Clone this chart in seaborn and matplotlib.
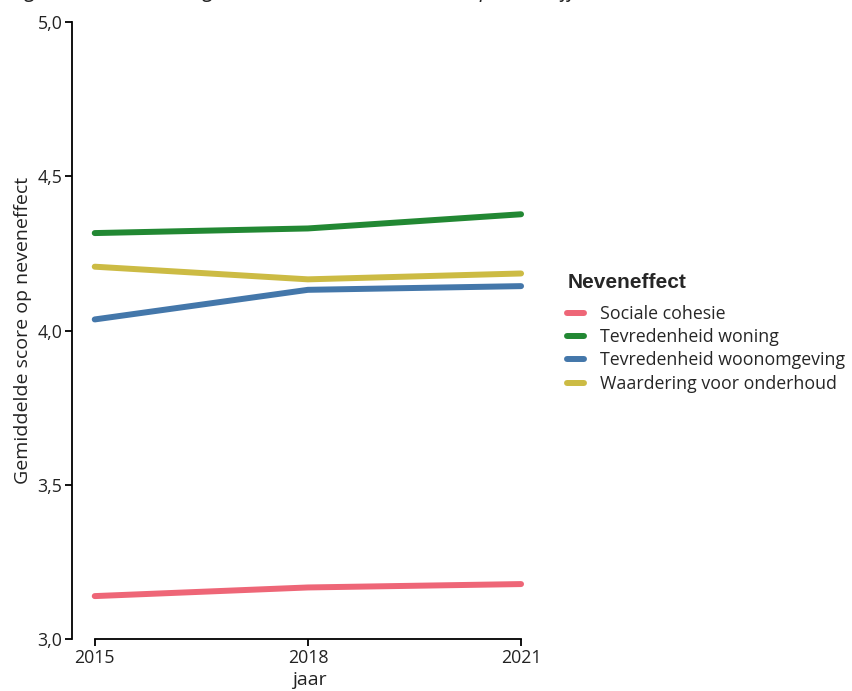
import pandas as pd
import seaborn as sns
import matplotlib.pyplot as plt
from matplotlib.ticker import FuncFormatter

###########################################################################
# data

jaren = [2015, 2018, 2021]
sociale_cohesie = [3.139, 3.167, 3.178]
tevredenheid_woning = [4.316, 4.331, 4.377]
tevredenheid_woonomgeving = [4.036, 4.132, 4.144]
waardering_onderhoud = [4.207, 4.166, 4.185]

neveneffecten = ["Sociale cohesie", "Tevredenheid woning",
                 "Tevredenheid woonomgeving", "Waardering voor onderhoud"]
kleuren = ["#EE6677", "#228833", "#4477AA", "#CCBB44"]

# the title is cut off at the top edge in the reference, only descenders show
titel = "Figuur 4: Ontwikkeling van de score van huurders op neveneffecten"

###########################################################################

def lineplot():
    series = [sociale_cohesie, tevredenheid_woning,
              tevredenheid_woonomgeving, waardering_onderhoud]
    rows = []
    for naam, waarden in zip(neveneffecten, series):
        for jaar, w in zip(jaren, waarden):
            rows.append({"jaar": jaar, "score": w, "Neveneffect": naam})
    df = pd.DataFrame(rows)

    sns.set_style("ticks")
    plt.rcParams['font.family'] = ['Open Sans', 'DejaVu Sans']

    fig = plt.figure(figsize=(8.53, 6.91), dpi=100)
    ax = fig.add_axes([0.0844, 0.0753, 0.5556, 0.8927])

    sns.lineplot(data=df, x="jaar", y="score", hue="Neveneffect",
                 hue_order=neveneffecten, palette=kleuren,
                 linewidth=4.3, ax=ax, legend=True)

    ax.set_ylim(3.0, 5.0)
    ax.set_xlim(2015 - 0.32, 2021 + 0.35)
    ax.set_yticks([3.0, 3.5, 4.0, 4.5, 5.0])
    ax.set_xticks(jaren)
    ax.yaxis.set_major_formatter(FuncFormatter(lambda v, p: f"{v:.1f}".replace(".", ",")))
    ax.tick_params(labelsize=12.8, length=5, width=1.3, color="black", labelcolor="#222222", pad=2)
    ax.set_xlabel("jaar", fontsize=14, color="#222222", labelpad=3)
    ax.set_ylabel("Gemiddelde score op neveneffect", fontsize=14, color="#222222", labelpad=4)

    sns.despine(ax=ax)
    ax.spines["bottom"].set_bounds(2015, 2021)
    for s in ["left", "bottom"]:
        ax.spines[s].set_linewidth(1.3)
        ax.spines[s].set_color("black")

    leg = ax.legend(title="Neveneffect", frameon=False, loc="center left",
                    bbox_to_anchor=(1.03, 0.496), fontsize=12.8, handlelength=0.95,
                    handletextpad=0.9, labelspacing=0.3, borderaxespad=0)
    leg.get_title().set_fontfamily(["Liberation Sans", "DejaVu Sans"])
    leg.get_title().set_fontweight("bold")
    leg.get_title().set_fontsize(15)
    leg._legend_box.align = "left"
    leg._legend_box.sep = 9
    for line in leg.get_lines():
        line.set_linewidth(4.3)

    fig.text(0.012, 1.0 + 3.5 / 691, titel, fontsize=15, style="italic",
             color="#222222", va="baseline")

    plt.savefig("out.png", dpi=100)
    plt.close()

if __name__ == "__main__":
    lineplot()
